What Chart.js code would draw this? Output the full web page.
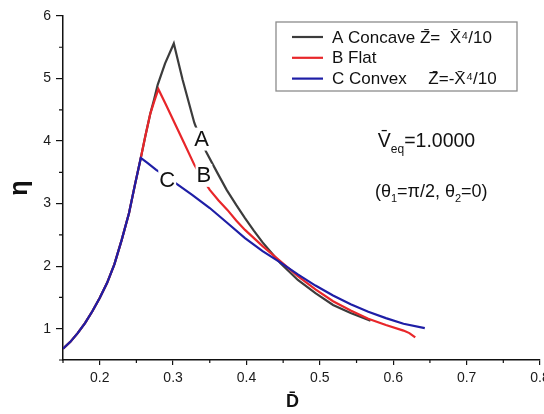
<!DOCTYPE html>
<html>
<head>
<meta charset="utf-8">
<script src="https://cdn.jsdelivr.net/npm/chart.js@4.4.0/dist/chart.umd.min.js"></script>
<style>
  html, body { margin: 0; padding: 0; background: #fff; }
  #wrap { width: 544px; height: 414px; }
</style>
</head>
<body>
<div id="wrap"><canvas id="chart" width="544" height="414"></canvas></div>
<script>
// rising branch shared by the three surfaces
const riseX = [0.150, 0.160, 0.170, 0.180, 0.190, 0.200, 0.210, 0.220, 0.230, 0.240, 0.248, 0.256];
const riseY = [0.68, 0.79, 0.93, 1.09, 1.28, 1.49, 1.73, 2.03, 2.42, 2.85, 3.30, 3.73];

// A - concave
const concaveX = riseX.concat([0.262, 0.269, 0.274, 0.279, 0.289, 0.301, 0.313, 0.329, 0.337, 0.345, 0.360, 0.373, 0.386, 0.398, 0.410, 0.422, 0.446, 0.470, 0.494, 0.518, 0.542, 0.569]);
const concaveY = riseY.concat([4.07, 4.44, 4.66, 4.90, 5.24, 5.56, 4.98, 4.29, 4.05, 3.83, 3.50, 3.22, 2.98, 2.77, 2.57, 2.38, 2.05, 1.78, 1.57, 1.38, 1.25, 1.13]);

// B - flat
const flatX = riseX.concat([0.262, 0.269, 0.275, 0.280, 0.290, 0.300, 0.315, 0.329, 0.340, 0.350, 0.362, 0.374, 0.386, 0.398, 0.422, 0.446, 0.470, 0.494, 0.518, 0.542, 0.566, 0.590, 0.614, 0.622, 0.630]);
const flatY = riseY.concat([4.07, 4.44, 4.66, 4.83, 4.59, 4.34, 3.97, 3.62, 3.40, 3.22, 3.05, 2.90, 2.73, 2.58, 2.32, 2.08, 1.84, 1.63, 1.44, 1.29, 1.16, 1.06, 0.97, 0.93, 0.86]);

// C - convex
const convexX = riseX.concat([0.265, 0.277, 0.290, 0.302, 0.326, 0.350, 0.374, 0.398, 0.422, 0.446, 0.470, 0.494, 0.518, 0.542, 0.566, 0.590, 0.614, 0.643]);
const convexY = riseY.concat([3.65, 3.54, 3.44, 3.34, 3.14, 2.93, 2.69, 2.45, 2.24, 2.06, 1.87, 1.69, 1.53, 1.39, 1.27, 1.17, 1.08, 1.01]);

const legendLabels = ['A Concave Z\u0304=  X\u0304\u2074/10', 'B Flat', 'C Convex\u2002\u2002 Z\u0304=-X\u0304\u2074/10'];
const seriesColors = ['#3c3c3c', '#e8262a', '#1e1ea6'];

// curve tags A, B, C (data coordinates)
const tagText = ['A', 'B', 'C'];
const tagX = [0.339, 0.342, 0.292];
const tagY = [4.04, 3.46, 3.38];

const FONT = '"Liberation Sans", Arial, sans-serif';

function toPoints(xs, ys) {
    return xs.map((x, i) => ({ x: x, y: ys[i] }));
}

function makeDataset(label, xs, ys, color, order) {
    return {
        label: label,
        data: toPoints(xs, ys),
        borderColor: color,
        backgroundColor: color,
        borderWidth: 2.2,
        pointRadius: 0,
        tension: 0,
        order: order
    };
}

// subscripted text pieces: [text, isSub]
function drawRich(ctx, parts, x, y, size) {
    let cx = x;
    parts.forEach(([t, sub]) => {
        ctx.font = (sub ? Math.round(size * 0.6) : size) + 'px ' + FONT;
        ctx.fillText(t, cx, sub ? y + size * 0.3 : y);
        cx += ctx.measureText(t).width;
    });
}

const overlay = {
    id: 'overlay',
    afterDatasetsDraw(chart) {
        const { ctx, scales: { x, y } } = chart;
        ctx.save();
        ctx.font = '22px ' + FONT;
        ctx.textAlign = 'center';
        ctx.textBaseline = 'middle';
        tagText.forEach((t, i) => {
            const px = x.getPixelForValue(tagX[i]);
            const py = y.getPixelForValue(tagY[i]);
            const w = ctx.measureText(t).width;
            ctx.fillStyle = '#fff';
            ctx.fillRect(px - w / 2 - 1, py - 11, w + 2, 23);
            ctx.fillStyle = '#111';
            ctx.fillText(t, px, py + 1);
        });
        ctx.restore();
    },
    afterDraw(chart) {
        const { ctx, scales: { x, y } } = chart;
        ctx.save();

        // minor ticks halfway between the major ones
        ctx.strokeStyle = '#111';
        ctx.lineWidth = 1.2;
        ctx.beginPath();
        x.ticks.forEach(t => {
            const px = x.getPixelForValue(t.value - 0.05);
            ctx.moveTo(px, y.bottom);
            ctx.lineTo(px, y.bottom + 3);
        });
        y.ticks.forEach(t => {
            const py = y.getPixelForValue(t.value - 0.5);
            ctx.moveTo(x.left, py);
            ctx.lineTo(x.left - 4, py);
        });
        ctx.stroke();

        // legend box
        const lx = 276, ly = 22, lw = 241, lh = 69;
        ctx.strokeStyle = '#8c8c8c';
        ctx.lineWidth = 1.3;
        ctx.strokeRect(lx, ly, lw, lh);
        ctx.textBaseline = 'middle';
        ctx.textAlign = 'left';
        chart.data.datasets.forEach((ds, i) => {
            const ry = ly + 15 + i * 20.8;
            ctx.strokeStyle = ds.borderColor;
            ctx.lineWidth = 2.2;
            ctx.beginPath();
            ctx.moveTo(lx + 16, ry);
            ctx.lineTo(lx + 47, ry);
            ctx.stroke();
            ctx.fillStyle = '#111';
            ctx.font = '17px ' + FONT;
            ctx.fillText(ds.label, lx + 56, ry + 1);
        });

        // notes on the right
        ctx.textBaseline = 'alphabetic';
        ctx.fillStyle = '#111';
        drawRich(ctx, [['V\u0304', false], ['eq', true], ['=1.0000', false]],
            x.getPixelForValue(0.579), y.getPixelForValue(3.91), 19.5);
        drawRich(ctx, [['(\u03b8', false], ['1', true], ['=\u03c0/2, \u03b8', false], ['2', true], ['=0)', false]],
            x.getPixelForValue(0.575), y.getPixelForValue(3.11), 18);

        ctx.restore();
    }
};

new Chart(document.getElementById('chart'), {
    type: 'line',
    data: {
        datasets: [
            makeDataset(legendLabels[0], concaveX, concaveY, seriesColors[0], 2),
            makeDataset(legendLabels[1], flatX, flatY, seriesColors[1], 1),
            makeDataset(legendLabels[2], convexX, convexY, seriesColors[2], 0)
        ]
    },
    options: {
        responsive: false,
        animation: false,
        devicePixelRatio: 1,
        layout: { padding: { top: 16, right: 4, left: 0, bottom: 0 } },
        plugins: {
            legend: { display: false },
            tooltip: { enabled: false }
        },
        scales: {
            x: {
                type: 'linear',
                min: 0.15,
                max: 0.8,
                afterFit: s => { s.height = 54; s.paddingLeft = 0; s.paddingRight = 0; },
                ticks: {
                    stepSize: 0.1,
                    includeBounds: false,
                    padding: 5,
                    color: '#1a1a1a',
                    font: { family: FONT, size: 14 },
                    callback: v => v.toFixed(1)
                },
                grid: { drawOnChartArea: false, tickLength: 5, color: '#111', lineWidth: 1.2 },
                border: { color: '#111', width: 1.5 },
                title: {
                    display: true,
                    text: 'D\u0304\u2002\u2002',
                    color: '#111',
                    font: { family: FONT, size: 18, weight: 'bold' },
                    padding: { top: 0, bottom: 1 }
                }
            },
            y: {
                type: 'linear',
                min: 0.5,
                max: 6,
                afterFit: s => { s.width = 63; },
                ticks: {
                    stepSize: 1,
                    includeBounds: false,
                    padding: 5,
                    color: '#1a1a1a',
                    font: { family: FONT, size: 14 }
                },
                grid: { drawOnChartArea: false, tickLength: 7, color: '#111', lineWidth: 1.2 },
                border: { color: '#111', width: 1.5 },
                title: {
                    display: true,
                    text: '\u03b7',
                    color: '#111',
                    font: { family: FONT, size: 25, weight: 'bold' },
                    padding: { top: 5, bottom: 0 }
                }
            }
        }
    },
    plugins: [overlay]
});
</script>
</body>
</html>
